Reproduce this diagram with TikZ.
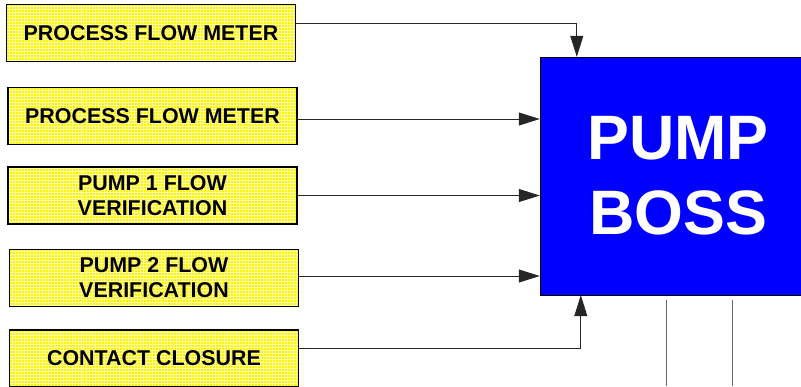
\documentclass[tikz,border=0pt]{standalone}
\usepackage{fontspec}
\setmainfont{Liberation Sans}
\usetikzlibrary{patterns,positioning,arrows.meta}

\definecolor{gridyellow}{RGB}{255,255,165}

\tikzset{
  inbox/.style={rectangle, draw=black, line width=1.5bp, minimum width=289bp, minimum height=57bp,
    preaction={fill=yellow}, pattern=grid, pattern color=gridyellow,
    align=center, font=\fontsize{21.5}{25}\selectfont\bfseries, inner sep=0pt},
  bossbox/.style={rectangle, draw=black, fill=blue, text=white, minimum width=276bp, minimum height=238bp,
    align=center, font=\fontsize{63}{75}\selectfont\bfseries, inner sep=0pt},
  feed/.style={-{Triangle[length=21bp,width=13bp]}, draw=black!85, line width=0.8bp},
  outline/.style={draw=black!60, line width=0.8bp}
}

\begin{document}
\begin{tikzpicture}[x=1bp, y=-1bp]
      \useasboundingbox (0,0) rectangle (801,386);

      \node [bossbox] (boss) at (678, 176) {PUMP\\BOSS};

      \node [inbox] (meter_a) at (151, 33) {PROCESS FLOW METER};
      \node [inbox] (meter_b) at (152.5, 116) {PROCESS FLOW METER};
      \node [inbox] (pump_a) at (152.5, 195.5) {PUMP 1 FLOW\\VERIFICATION};
      \node [inbox] (pump_b) at (154, 278) {PUMP 2 FLOW\\VERIFICATION};
      \node [inbox] (contact) at (154, 358.5) {CONTACT CLOSURE};

      \draw[feed] ([yshift=10bp]meter_a.east) -| ([xshift=37bp]boss.north west);
      \draw[feed] ([yshift=-3bp]meter_b.east) -- ([yshift=-3bp]meter_b.east -| boss.west);
      \draw[feed] (pump_a.east) -- (pump_a.east -| boss.west);
      \draw[feed] ([yshift=2bp]pump_b.east) -- ([yshift=2bp]pump_b.east -| boss.west);
      \draw[feed] ([yshift=-19bp]contact.north east) -| ([xshift=41bp]boss.south west);

      \draw[outline] ([xshift=127bp,yshift=-5bp]boss.south west) -- ++(0,86);
      \draw[outline] ([xshift=193bp,yshift=-5bp]boss.south west) -- ++(0,86);

    \end{tikzpicture}
\end{document}
